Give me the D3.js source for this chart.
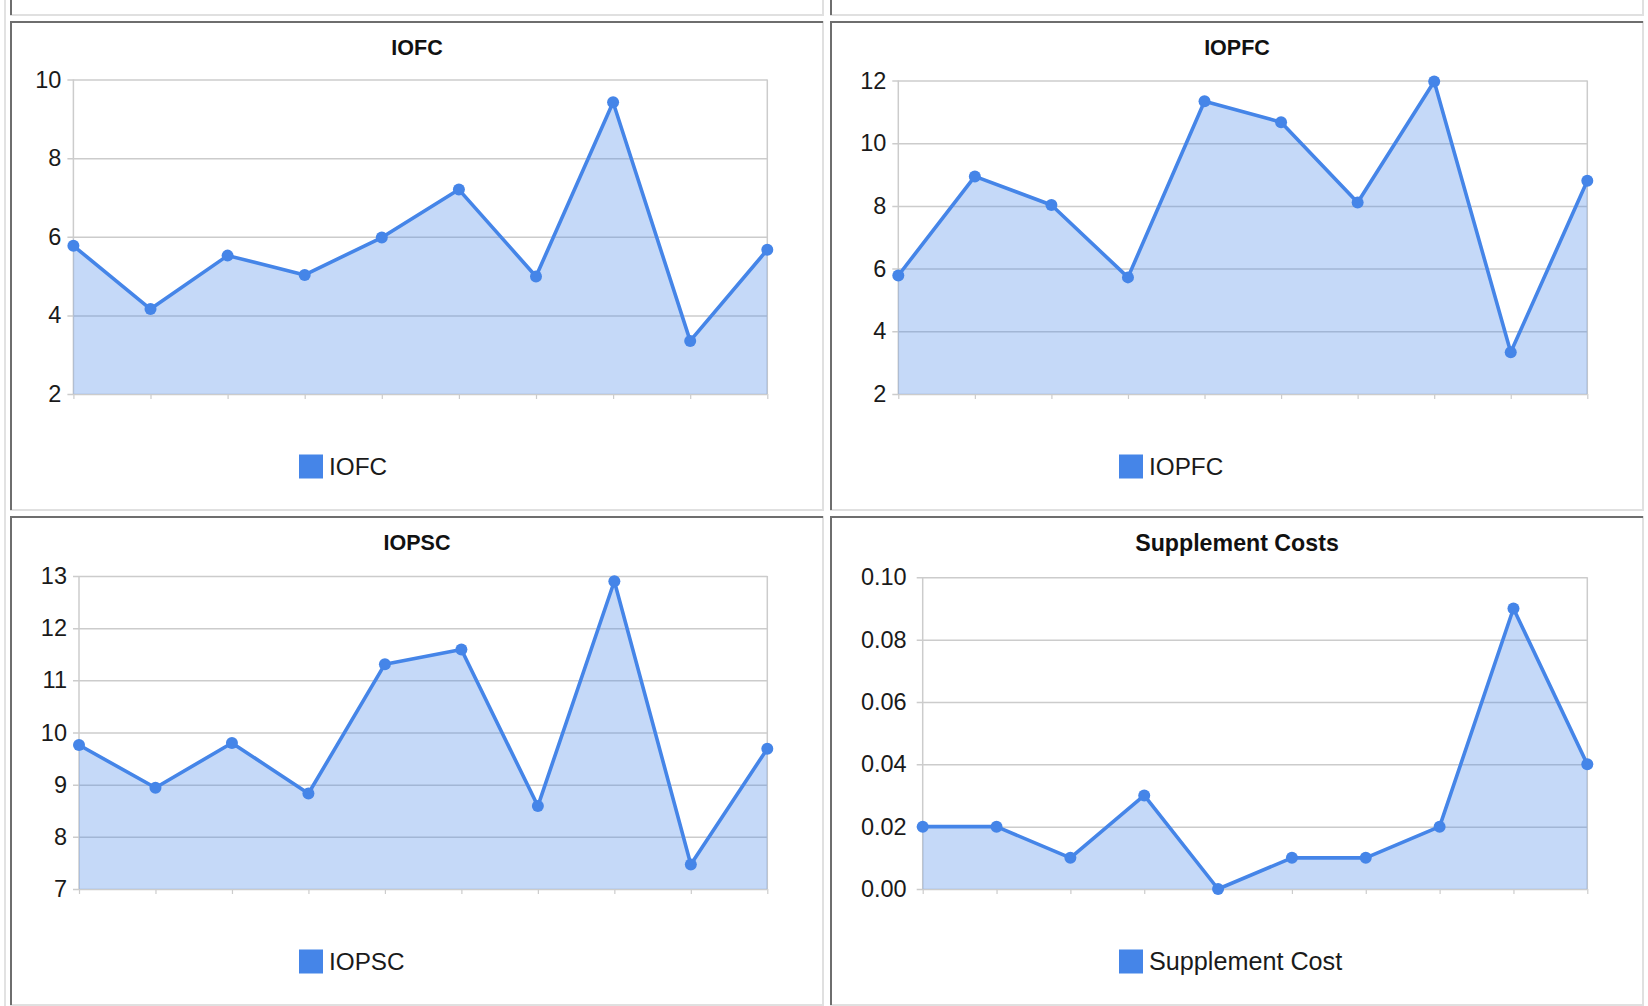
<!DOCTYPE html>
<html>
<head>
<meta charset="utf-8">
<script src="https://cdn.jsdelivr.net/npm/d3@7"></script>
<style>
  html, body { margin: 0; padding: 0; background: #fff; }
  svg { display: block; }
  text { font-family: Arial, "Liberation Sans", sans-serif; }
</style>
</head>
<body>
<svg id="chart" width="1648" height="1006"></svg>
<script>
// ---------- data ----------
const categories = ["1", "2", "3", "4", "5", "6", "7", "8", "9", "10"];

const iofcValues   = [5.77, 4.16, 5.52, 5.03, 5.98, 7.20, 4.99, 9.42, 3.35, 5.67];
const iopfcValues  = [5.78, 8.94, 8.03, 5.72, 11.34, 10.67, 8.11, 11.97, 3.33, 8.80];
const iopscValues  = [9.76, 8.94, 9.80, 8.83, 11.31, 11.59, 8.59, 12.90, 7.47, 9.69];
const suppValues   = [0.02, 0.02, 0.01, 0.03, 0.00, 0.01, 0.01, 0.02, 0.09, 0.04];

const chartTitles  = ["IOFC", "IOPFC", "IOPSC", "Supplement Costs"];
const legendLabels = ["IOFC", "IOPFC", "IOPSC", "Supplement Cost"];

const iofcTicks  = [2, 4, 6, 8, 10];
const iopfcTicks = [2, 4, 6, 8, 10, 12];
const iopscTicks = [7, 8, 9, 10, 11, 12, 13];
const suppTicks  = [0, 0.02, 0.04, 0.06, 0.08, 0.10];

// ---------- layout (positions / styles, not data) ----------
const panels = [
  { values: iofcValues,  ticks: iofcTicks,  fmt: d3.format("d"),   col: 0, row: 0, left: 63.4, top: 58.5, labelGap: 12, titleSize: 21.5, legendSize: 24.3 },
  { values: iopfcValues, ticks: iopfcTicks, fmt: d3.format("d"),   col: 1, row: 0, left: 68.3, top: 59.5, labelGap: 12, titleSize: 21.5, legendSize: 24.3 },
  { values: iopscValues, ticks: iopscTicks, fmt: d3.format("d"),   col: 0, row: 1, left: 69,   top: 60,   labelGap: 12, titleSize: 21.5, legendSize: 24.3 },
  { values: suppValues,  ticks: suppTicks,  fmt: d3.format(".2f"), col: 1, row: 1, left: 92.7, top: 61.3, labelGap: 16, titleSize: 23.2, legendSize: 25.2 }
];

const cellX = c => 10 + 820 * c;
const cellY = r => 21 + 495 * r;
const PLOT_RIGHT = 757.3;
const PLOT_BOTTOM = 373;
const LINE_COLOR = "#4585e8";
const GRID = "#cccccc";

const svg = d3.select("#chart");

// ---------- frames ----------
const frames = svg.append("g");
frames.append("line").attr("x1", 5).attr("x2", 5).attr("y1", 0).attr("y2", 1006)
  .attr("stroke", "#e2e2e2").attr("stroke-width", 2);
for (const r of [-1, 0, 1]) {
  for (const c of [0, 1]) {
    const x0 = cellX(c), y0 = cellY(r);
    frames.append("line").attr("x1", x0).attr("x2", x0 + 814).attr("y1", y0 + 489).attr("y2", y0 + 489)
      .attr("stroke", "#e0e0e0").attr("stroke-width", 2);
    frames.append("line").attr("x1", x0 + 813).attr("x2", x0 + 813).attr("y1", y0).attr("y2", y0 + 490)
      .attr("stroke", "#e0e0e0").attr("stroke-width", 2);
    frames.append("line").attr("x1", x0).attr("x2", x0 + 813).attr("y1", y0 + 1).attr("y2", y0 + 1)
      .attr("stroke", "#6e6e6e").attr("stroke-width", 2);
    frames.append("line").attr("x1", x0 + 1).attr("x2", x0 + 1).attr("y1", y0).attr("y2", y0 + 489)
      .attr("stroke", "#6e6e6e").attr("stroke-width", 2);
  }
}

// ---------- charts ----------
panels.forEach((p, i) => {
  const x0 = cellX(p.col), y0 = cellY(p.row);
  const g = svg.append("g").attr("transform", `translate(${x0},${y0})`);

  const x = d3.scalePoint().domain(categories).range([p.left, PLOT_RIGHT]);
  const y = d3.scaleLinear().domain(d3.extent(p.ticks)).range([PLOT_BOTTOM, p.top]);

  // title
  g.append("text")
    .attr("x", 407).attr("y", 27)
    .attr("text-anchor", "middle").attr("dominant-baseline", "central")
    .attr("font-size", p.titleSize).attr("font-weight", "bold").attr("fill", "#111")
    .text(chartTitles[i]);

  // y axis with gridlines
  const yAxis = d3.axisLeft(y).tickValues(p.ticks).tickFormat(p.fmt)
    .tickSize(-(PLOT_RIGHT - p.left)).tickPadding(0);
  const ya = g.append("g").attr("transform", `translate(${p.left},0)`).call(yAxis);
  ya.select(".domain").remove();
  ya.selectAll(".tick line").attr("stroke", GRID).attr("stroke-width", 1.5)
    .attr("x1", -6);
  ya.selectAll(".tick text")
    .attr("x", -p.labelGap)
    .attr("font-size", 23.5).attr("fill", "#1a1a1a")
    .attr("font-family", 'Arial, "Liberation Sans", sans-serif');

  // plot frame sides
  g.append("line").attr("x1", p.left).attr("x2", p.left).attr("y1", p.top).attr("y2", PLOT_BOTTOM)
    .attr("stroke", GRID).attr("stroke-width", 1.5);
  g.append("line").attr("x1", PLOT_RIGHT).attr("x2", PLOT_RIGHT).attr("y1", p.top).attr("y2", PLOT_BOTTOM)
    .attr("stroke", GRID).attr("stroke-width", 1.5);

  // x axis ticks
  const xAxis = d3.axisBottom(x).tickSize(5).tickFormat("");
  const xa = g.append("g").attr("transform", `translate(0,${PLOT_BOTTOM})`).call(xAxis);
  xa.select(".domain").remove();
  xa.selectAll(".tick line").attr("stroke", GRID).attr("stroke-width", 1.2);

  // area
  const area = d3.area()
    .x((d, j) => x(categories[j]))
    .y0(PLOT_BOTTOM)
    .y1(d => y(d));
  g.append("path").datum(p.values)
    .attr("d", area)
    .attr("fill", LINE_COLOR).attr("fill-opacity", 0.31);

  // line
  const line = d3.line()
    .x((d, j) => x(categories[j]))
    .y(d => y(d));
  g.append("path").datum(p.values)
    .attr("d", line)
    .attr("fill", "none").attr("stroke", LINE_COLOR).attr("stroke-width", 3.6)
    .attr("stroke-linejoin", "round");

  // points
  g.selectAll("circle.pt").data(p.values).enter().append("circle")
    .attr("class", "pt")
    .attr("cx", (d, j) => x(categories[j]))
    .attr("cy", d => y(d))
    .attr("r", 6)
    .attr("fill", LINE_COLOR);

  // legend
  const lg = g.append("g").attr("transform", `translate(289,445.5)`);
  lg.append("rect").attr("x", 0).attr("y", -12).attr("width", 24).attr("height", 24)
    .attr("fill", LINE_COLOR);
  lg.append("text").attr("x", 30).attr("y", -0.5)
    .attr("dominant-baseline", "central")
    .attr("font-size", p.legendSize).attr("fill", "#1a1a1a")
    .text(legendLabels[i]);
});
</script>
</body>
</html>
